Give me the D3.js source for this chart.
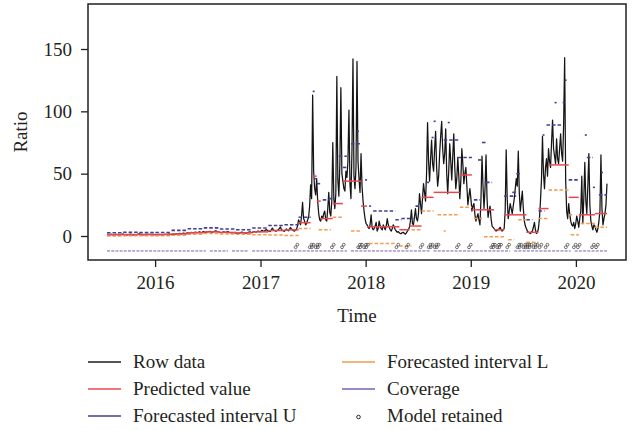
<!DOCTYPE html>
<html>
<head>
<meta charset="utf-8">
<script src="https://cdn.jsdelivr.net/npm/d3@7"></script>
<style>
  body { margin: 0; background: #fff; }
  text { font-family: "Liberation Serif", "Times New Roman", serif; fill: #231f20; }
</style>
</head>
<body>
<svg id="chart" width="633" height="430"></svg>
<script>
// observations every half week, first one on 18 Jul 2015
const firstDay = new Date(2015, 6, 18)

const rowData = [
  // 2015
  1.2,1.4,1.0,0.8,1.5,1.1,0.8,1.0,1.1,1.3, 1.3,0.9,0.9,1.2,1.2,1.5,1.6,1.2,1.0,0.8,
  0.8,1.1,1.2,1.5,1.4,1.0,1.1,0.9,0.9,1.2, 1.3,1.6,1.7,1.3,1.2,0.9,1.0,1.2,0.9,1.0,
  1.1,1.3,1.4,1.2,1.2,0.9,1.0,1.2,
  // 2016 H1
  1.1,1.0,0.9,1.2,1.3,1.1,1.2,1.0,1.0,1.3, 1.4,1.3,1.2,1.5,1.6,1.4,1.3,1.2,1.1,1.4,
  1.5,1.7,1.8,2.0,2.1,1.9,1.7,2.2,2.4,2.1, 2.0,2.3,2.6,2.4,2.2,2.7,2.9,2.6,2.5,2.9,
  3.1,2.8,2.7,3.2,3.3,3.0,2.8,3.3,3.5,3.1,3.0,3.4,
  // 2016 H2
  3.2,3.6,3.8,3.3,2.9,3.2,3.4,3.9,4.1,3.7, 3.6,3.2,3.0,2.8,2.7,3.1,3.3,3.0,2.9,3.3,
  3.5,3.0,2.6,2.4,2.2,2.6,2.8,2.5,2.4,2.1, 1.9,2.3,2.5,2.9,3.1,2.8,2.6,2.3,2.2,2.6,
  2.9,3.2,3.4,3.0,2.8,3.3,3.6,3.3,3.1,3.7,4.0,3.7,
  // 2017
  3.5,4.1,4.6,4.0,3.8,4.6,5.2,4.5,4.1,3.8, 3.6,4.9,6.3,5.1,4.4,4.0,3.9,4.6,5.0,6.1,
  7.2,5.3,4.5,4.0,3.8,4.9,5.6,4.8,4.2,5.5, 6.8,5.6,4.9,4.2,3.9,4.8,5.5,8.0,
  13,11,9,16,27,14,12,9,10,13,15,24,41,30,113,52,38,33,46,28,18,13,12,16,
  14,18,20,13,12,22,35,19,16,28,75,30,22,34,
  128,45,32,58,119,50,44,38,36,52,47,60,101,42,30,68,142,48,38,55,140,60,46,35,66,40,28,20,14,10,9,7,
  // 2018
  6,9,17,7,5,6,8,11,4,6, 12,8,6,5,9,7,5,8,14,9, 7,5,4,6,9,7,5,4,3,3.5,
  2.5,2,2,2.8,3,2,1.5,2.5,4,5, 7,12,21,10,9,15,22,14,12,18,
  34,26,18,30,42,35,28,50,91,60, 44,62,77,58,52,70,84,55,40,48, 66,80,92,70,58,66,86,50,34,52,
  74,60,45,64,82,55,38,46,63,48, 30,44,70,58,42,50,55,40,25,32,
  // 2019
  38,30,20,24,26,17,12,15,18,13, 9,30,64,40,22,38,65,30,15,20, 24,14,8,7,6,5,4,4.5,5,6,
  7,5,4,5,6,20,69,30,14,20, 26,22,18,24,30,38,46,40,68,35, 20,28,36,22,12,8,6,4,3,2.5,
  2,3,4,7,11,5,2,3,6,14, 28,45,80,50,38,55,62,48,70,60, 55,75,93,70,64,58,78,62,58,70,
  82,66,60,90,143,45,20,14,26,18, 12,9,8,11,6,10,
  // 2020
  16,12,7,14,20,48,10,30,59,28, 18,40,66,25,12,8,5,9,8,5, 3,6,12,20,65,22,9,14,18,25,42
]

// forecast windows, in weeks from the first observation: [from, to, value]
const predicted = [
  [0,8,1.1],[8,16,1.2],[16,24,1.2],[24,32,1.2],[32,40,1.7],[40,48,2.6],[48,56,3.3],[56,64,2.9],
  [64,72,2.5],[72,80,3.3],[80,88,4.4],[88,95,4.9],
  [95,101,10.7],[102,104,48],[104,106,28],[106,112,14],[112,117,26],[117,126,44],[126,129,24],
  [129,145,7.5],[145,150,5],[150,156,8],[156,162,31],[162,175,35],[175,181,49],[181,192,21],
  [192,197,5],[197,208,17],[208,214,3],[214,219,22],[219,229,57],[229,234,31],[234,242,17],[242,248,18]
]

const upperBound = [
  [0,8,2.6],[8,16,3.0],[16,24,2.7],[24,32,2.8],[32,40,4.5],[40,48,5.8],[48,56,6.5],[56,64,5.6],
  [64,72,5.0],[72,80,6.4],[80,88,8.4],[88,95,9.0],
  [95,101,15],[102,103,116],[103,104,46],[104,106,42],[107,110,29],[110,113,30],[115,119,64],
  [117,119,55],[121,126,74],[124,125,84],[128,129,45],[130,131,24],[132,143,20],[143,146,13],
  [146,152,14],[153,156,24],[158,160,43],[161,162,79],[162,163,92],[167,175,77],[169,170,91],
  [174,181,63],[182,185,29],[184,186,61],[186,188,75],[188,191,43],[197,203,32],[201,203,35],
  [203,205,50],[208,211,13],[214,217,20],[216,217,81],[218,226,89],[222,223,107],[226,227,107],
  [227,228,125],[229,234,45],[237,238,81],[238,241,63],[241,242,39],[245,246,51],[244,248,33]
]

const lowerBound = [
  [0,8,0.1],[8,16,0.3],[16,24,0.2],[24,32,0.3],[32,40,0.7],[40,48,1.5],[48,56,2.0],[56,64,1.7],
  [64,72,1.4],[72,80,1.0],[80,88,0.8],[88,95,0.5],
  [95,101,6],[105,111,5],[112,117,15],[121,126,4],[130,143,-6],[145,151,-8],[151,156,5],
  [156,162,20],[164,175,17],[167,168,4],[175,181,23],[182,186,14],[187,197,-0.5],[199,202,-3],
  [204,208,13],[208,214,-5],[214,219,14],[219,229,37],[229,231,17],[230,234,1],[235,242,10],[242,248,7]
]

const coverage = [[0,49],[51,60],[62,70],[72,119],[121,160],[162,200],[202,230],[232,248]]
const coverageLevel = -12

const retained = [94,101,102,104,105,112,117,125,126,128,129,144,149,156,160,161,163,164,174,180,
  191,192,194,195,199,204,205,207,208,209,210,212,213,215,218,228,232,234,241,243]
const retainedLevel = -8

const yTicks = [0, 50, 100, 150]
const xTicks = [2016, 2017, 2018, 2019, 2020]

const legendItems = [
  { label: "Row data", color: "#1a1a1a", kind: "line" },
  { label: "Predicted value", color: "#e8474f", kind: "line" },
  { label: "Forecasted interval U", color: "#3f3f96", kind: "line" },
  { label: "Forecasted interval L", color: "#f59b4c", kind: "line" },
  { label: "Coverage", color: "#7d5fb0", kind: "line" },
  { label: "Model retained", color: "#1a1a1a", kind: "dot" }
]

const box = { left: 88, right: 626, top: 4, bottom: 260 }
const svg = d3.select("#chart")

const obsDate = j => d3.timeHour.offset(firstDay, j * 84)
const weekDate = i => d3.timeDay.offset(firstDay, i * 7)

const x = d3.scaleTime()
  .domain([new Date(2015, 4, 13), new Date(2020, 5, 23)])
  .range([box.left, box.right])
const y = d3.scaleLinear()
  .domain([-19.25, 186.1])
  .range([box.bottom, box.top])

// raw series
svg.append("path")
  .datum(rowData)
  .attr("fill", "none")
  .attr("stroke", "#141414")
  .attr("stroke-width", 1.25)
  .attr("stroke-linejoin", "round")
  .attr("d", d3.line().x((d, j) => x(obsDate(j))).y(d => y(d)))

function drawSegments(data, color, dash, width) {
  svg.append("g").selectAll("line")
    .data(data)
    .join("line")
    .attr("x1", d => x(weekDate(d[0])))
    .attr("x2", d => x(weekDate(d[1])))
    .attr("y1", d => y(d[2]))
    .attr("y2", d => y(d[2]))
    .attr("stroke", color)
    .attr("stroke-width", width)
    .attr("stroke-dasharray", dash)
}

drawSegments(upperBound, legendItems[2].color, "3.5,2", 1.6)
drawSegments(lowerBound, legendItems[3].color, "3.5,2", 1.5)
drawSegments(predicted, legendItems[1].color, null, 1.5)

// coverage strip
drawSegments(coverage.map(c => [c[0], c[1], coverageLevel]), legendItems[4].color, "3,1.2", 1)

// retained models: little double ring
const ring = d3.path()
ring.arc(-0.9, 1.3, 1.4, 0, 2 * Math.PI)
ring.moveTo(2.3, -1.3)
ring.arc(0.9, -1.3, 1.4, 0, 2 * Math.PI)
svg.append("g").selectAll("path")
  .data(retained)
  .join("path")
  .attr("transform", d => `translate(${x(weekDate(d))},${y(retainedLevel)})`)
  .attr("d", ring.toString())
  .attr("fill", "none")
  .attr("stroke", "#333")
  .attr("stroke-width", 0.7)

// frame
svg.append("rect")
  .attr("x", box.left).attr("y", box.top)
  .attr("width", box.right - box.left).attr("height", box.bottom - box.top)
  .attr("fill", "none").attr("stroke", "#231f20").attr("stroke-width", 1.5)

const xAxis = svg.append("g")
  .attr("transform", `translate(0,${box.bottom})`)
  .call(d3.axisBottom(x)
    .tickValues(xTicks.map(t => new Date(t, 0, 1)))
    .tickFormat(d3.timeFormat("%Y"))
    .tickSize(7).tickPadding(9).tickSizeOuter(0))
const yAxis = svg.append("g")
  .attr("transform", `translate(${box.left},0)`)
  .call(d3.axisLeft(y).tickValues(yTicks).tickSize(7).tickPadding(9).tickSizeOuter(0))

for (const ax of [xAxis, yAxis]) {
  ax.select(".domain").remove()
  ax.selectAll(".tick line").attr("stroke", "#231f20").attr("stroke-width", 1.3)
  ax.selectAll(".tick text").style("font-size", "19px").attr("fill", "#231f20")
    .style("font-family", "'Liberation Serif', serif")
}

svg.append("text")
  .attr("x", 357).attr("y", 322)
  .attr("text-anchor", "middle")
  .style("font-size", "19px")
  .text("Time")
svg.append("text")
  .attr("transform", "translate(27,132) rotate(-90)")
  .attr("text-anchor", "middle")
  .style("font-size", "19px")
  .text("Ratio")

// legend, two columns of three
const rowsY = [362, 389, 416]
const cols = [{ x: 88, tx: 133 }, { x: 342, tx: 387 }]
legendItems.forEach((item, i) => {
  const col = cols[Math.floor(i / 3)]
  const ly = rowsY[i % 3]
  const g = svg.append("g")
  if (item.kind === "line") {
    g.append("line")
      .attr("x1", col.x).attr("x2", col.x + 33)
      .attr("y1", ly).attr("y2", ly)
      .attr("stroke", item.color).attr("stroke-width", 1.4)
  } else {
    g.append("circle")
      .attr("cx", col.x + 16.5).attr("cy", ly + 1)
      .attr("r", 1.8)
      .attr("fill", "none").attr("stroke", item.color).attr("stroke-width", 0.9)
  }
  g.append("text")
    .attr("x", col.tx).attr("y", ly + 6)
    .style("font-size", "19px")
    .text(item.label)
})
</script>
</body>
</html>
